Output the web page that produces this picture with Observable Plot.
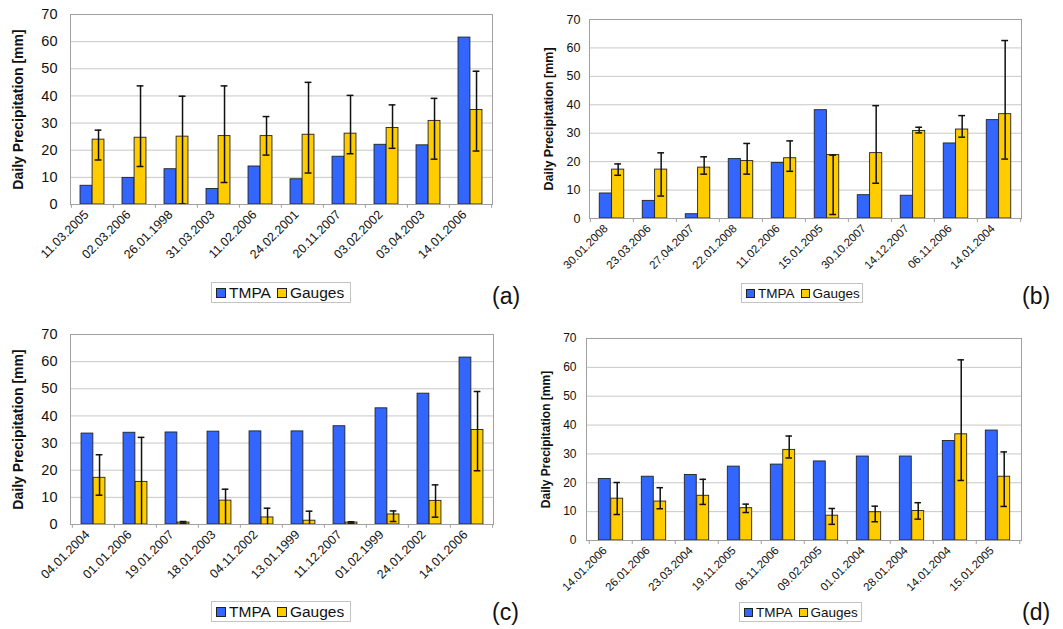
<!DOCTYPE html>
<html>
<head>
<meta charset="utf-8">
<script src="https://cdn.jsdelivr.net/npm/d3@7"></script>
<script src="https://cdn.jsdelivr.net/npm/@observablehq/plot@0.6"></script>
<style>
  html, body { margin: 0; padding: 0; background: #fff; }
  body { width: 1063px; height: 629px; position: relative; overflow: hidden; font-family: "Liberation Sans", Arial, sans-serif; }
  .panel { position: absolute; }
  .legend { position: absolute; border: 1px solid #c4c4c4; display: flex; align-items: center; box-sizing: border-box; color: #111; }
  .sw { display: inline-block; border: 1px solid #222; box-sizing: border-box; margin-right: 3px; }
  .tag { position: absolute; font-size: 23px; color: #111; }
</style>
</head>
<body>
<script>
// ---------- data ----------
const seriesNames = ["TMPA", "Gauges"];
const yTicks = [0, 10, 20, 30, 40, 50, 60, 70];
const yTitle = "Daily Precipitation [mm]";

// (a)
const datesA = ["11.03.2005","02.03.2006","26.01.1998","31.03.2003","11.02.2006","24.02.2001","20.11.2007","03.02.2002","03.04.2003","14.01.2006"];
const tmpaA   = [6.9, 9.8, 13.0, 5.7, 14.0, 9.3, 17.6, 22.0, 21.8, 61.5];
const gaugesA = [23.9, 24.6, 25.0, 25.2, 25.2, 25.7, 26.1, 28.2, 30.8, 34.8];
const loA     = [16.4, 14.0, 0.2, 8.1, 18.2, 11.6, 18.7, 20.7, 16.7, 19.7];
const hiA     = [27.4, 43.7, 39.9, 43.7, 32.4, 45.0, 40.2, 36.7, 39.1, 49.1];

// (b)
const datesB = ["30.01.2008","23.03.2006","27.04.2007","22.01.2008","11.02.2006","15.01.2005","30.10.2007","14.12.2007","06.11.2006","14.01.2004"];
const tmpaB   = [8.8, 6.2, 1.5, 20.9, 19.5, 38.1, 8.2, 8.0, 26.4, 34.6];
const gaugesB = [17.2, 17.2, 17.9, 20.2, 21.2, 22.3, 23.0, 30.8, 31.3, 36.7];
const loB     = [15.2, 7.9, 15.6, 15.6, 16.6, 1.4, 12.4, 30.1, 28.6, 20.9];
const hiB     = [19.2, 23.1, 21.7, 26.4, 27.3, 22.3, 39.7, 32.1, 36.2, 62.6];

// (c)
const datesC = ["04.01.2004","01.01.2006","19.01.2007","18.01.2003","04.11.2002","13.01.1999","11.12.2007","01.02.1999","24.01.2002","14.01.2006"];
const tmpaC   = [33.5, 33.8, 33.9, 34.2, 34.3, 34.3, 36.2, 42.8, 48.2, 61.5];
const gaugesC = [17.2, 15.7, 0.7, 8.8, 2.6, 1.4, 0.7, 3.7, 8.7, 34.8];
const loC     = [10.8, 0.0, 0.5, 0.0, 0.0, 0.0, 0.5, 1.1, 2.7, 19.8];
const hiC     = [25.7, 32.1, 1.1, 13.0, 6.0, 4.9, 1.0, 5.0, 14.6, 49.0];

// (d)
const datesD = ["14.01.2006","26.01.2006","23.03.2004","19.11.2005","06.11.2006","09.02.2005","01.01.2004","28.01.2004","14.01.2004","15.01.2005"];
const tmpaD   = [21.3, 22.1, 22.7, 25.6, 26.3, 27.4, 29.1, 29.1, 34.5, 38.1];
const gaugesD = [14.5, 13.5, 15.5, 11.2, 31.4, 8.6, 9.8, 10.2, 36.8, 22.1];
const loD     = [9.0, 11.0, 12.5, 9.7, 28.6, 5.6, 6.5, 7.4, 20.8, 11.8];
const hiD     = [20.1, 18.3, 21.2, 12.6, 36.2, 11.1, 11.9, 13.1, 62.6, 30.7];

const colors = {TMPA: "#3366ff", Gauges: "#ffcc00"};

// ---------- drawing ----------
function panel(cfg) {
  const {left, top, width, height, mL, mR, mT, mB, dates, tmpa, gauges, lo, hi,
         yFont, xFont, titleFont, titleDx, yPad, xPad, legend, tag} = cfg;
  const rows = dates.map((d, i) => ({date: d, tmpa: tmpa[i], gauges: gauges[i], lo: lo[i], hi: hi[i]}));
  const bw = (width - mL - mR) / dates.length;
  const barW = bw / 3.5;
  const half = bw / 2;
  const capHalf = 3.5;
  const boundaries = dates.map((d, i) => ({date: d, dx: -half})).concat([{date: dates[dates.length - 1], dx: half}]);

  const chart = Plot.plot({
    width, height,
    marginLeft: mL, marginRight: mR, marginTop: mT, marginBottom: mB,
    style: {fontFamily: "'Liberation Sans', Arial, sans-serif", color: "#111", background: "transparent", overflow: "visible"},
    x: {type: "band", domain: dates, padding: 0, label: null},
    y: {domain: [0, 70], label: null},
    marks: [
      Plot.ruleY(yTicks.filter(t => t > 0), {stroke: "#c8c8c8", strokeWidth: 1}),
      Plot.barY(rows, {x: "date", y: "tmpa", fill: colors.TMPA, stroke: "#222", strokeWidth: 0.9,
                       insetLeft: half - barW, insetRight: half}),
      Plot.barY(rows, {x: "date", y: "gauges", fill: colors.Gauges, stroke: "#222", strokeWidth: 0.9,
                       insetLeft: half, insetRight: half - barW}),
      Plot.ruleX(rows, {x: "date", y1: "lo", y2: "hi", dx: barW / 2, stroke: "#111", strokeWidth: 1.5}),
      Plot.tickY(rows, {x: "date", y: "hi", stroke: "#111", strokeWidth: 1.5,
                        insetLeft: half + barW / 2 - capHalf, insetRight: half - barW / 2 - capHalf}),
      Plot.tickY(rows.filter(r => r.lo > 0), {x: "date", y: "lo", stroke: "#111", strokeWidth: 1.5,
                        insetLeft: half + barW / 2 - capHalf, insetRight: half - barW / 2 - capHalf}),
      Plot.frame({stroke: "#a0a0a0", strokeWidth: 1}),
      ...boundaries.map(b => Plot.ruleX([b], {x: "date", y1: 0, y2: -1.4, dx: b.dx, stroke: "#a0a0a0"})),
      Plot.axisY({ticks: yTicks, tickSize: 0, tickPadding: yPad, fontSize: yFont, tickFormat: d => d, label: null}),
      Plot.axisX({tickSize: 0, tickRotate: -45, tickPadding: xPad, fontSize: xFont, dx: -6, label: null}),
      Plot.text([yTitle], {frameAnchor: "left", rotate: -90, dx: titleDx, text: d => d,
                           fontSize: titleFont, fontWeight: "bold", textAnchor: "middle", fill: "#111"})
    ]
  });

  const div = document.createElement("div");
  div.className = "panel";
  div.style.left = left + "px";
  div.style.top = top + "px";
  div.appendChild(chart);
  document.body.appendChild(div);

  const lg = document.createElement("div");
  lg.className = "legend";
  Object.assign(lg.style, {left: legend.x + "px", top: legend.y + "px", width: legend.w + "px",
                           height: legend.h + "px", fontSize: legend.font + "px", paddingLeft: "4px"});
  seriesNames.forEach((s, i) => {
    const sw = document.createElement("span");
    sw.className = "sw";
    Object.assign(sw.style, {width: legend.sw + "px", height: legend.sw + "px", background: colors[s]});
    const t = document.createElement("span");
    t.textContent = s;
    t.style.marginRight = i === 0 ? "6px" : "0";
    lg.appendChild(sw);
    lg.appendChild(t);
  });
  document.body.appendChild(lg);

  const tg = document.createElement("div");
  tg.className = "tag";
  tg.textContent = tag.text;
  tg.style.left = tag.x + "px";
  tg.style.top = tag.y + "px";
  document.body.appendChild(tg);
}

panel({left: 0, top: 0, width: 530, height: 290, mL: 70, mR: 38, mT: 14, mB: 86,
       dates: datesA, tmpa: tmpaA, gauges: gaugesA, lo: loA, hi: hiA,
       yFont: 14.5, xFont: 12.5, titleFont: 14, titleDx: -52, yPad: 13, xPad: 8,
       legend: {x: 211, y: 282, w: 140, h: 21, font: 15.5, sw: 10},
       tag: {text: "(a)", x: 492, y: 283}});

panel({left: 530, top: 0, width: 533, height: 290, mL: 59, mR: 42, mT: 19, mB: 72,
       dates: datesB, tmpa: tmpaB, gauges: gaugesB, lo: loB, hi: hiB,
       yFont: 12.5, xFont: 11.5, titleFont: 12.5, titleDx: -41, yPad: 9, xPad: 8,
       legend: {x: 741, y: 283, w: 122, h: 20, font: 13.5, sw: 9},
       tag: {text: "(b)", x: 1022, y: 283}});

panel({left: 0, top: 315, width: 530, height: 290, mL: 70, mR: 37, mT: 19, mB: 81,
       dates: datesC, tmpa: tmpaC, gauges: gaugesC, lo: loC, hi: hiC,
       yFont: 14.5, xFont: 12.5, titleFont: 14, titleDx: -52, yPad: 13, xPad: 8,
       legend: {x: 211, y: 601, w: 140, h: 21, font: 15.5, sw: 10},
       tag: {text: "(c)", x: 492, y: 599}});

panel({left: 530, top: 315, width: 533, height: 290, mL: 56, mR: 42, mT: 23, mB: 65,
       dates: datesD, tmpa: tmpaD, gauges: gaugesD, lo: loD, hi: hiD,
       yFont: 12, xFont: 11.5, titleFont: 12, titleDx: -40, yPad: 10, xPad: 8,
       legend: {x: 739, y: 602, w: 123, h: 20, font: 13.5, sw: 9},
       tag: {text: "(d)", x: 1022, y: 599}});
</script>
</body>
</html>
